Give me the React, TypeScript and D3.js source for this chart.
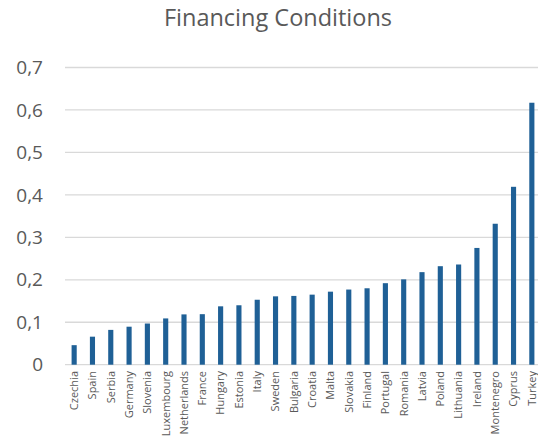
import React from "react";
import * as d3 from "d3";

const countries = ["Czechia","Spain","Serbia","Germany","Slovenia","Luxembourg","Netherlands","France","Hungary","Estonia","Italy","Sweden","Bulgaria","Croatia","Malta","Slovakia","Finland","Portugal","Romania","Latvia","Poland","Lithuania","Ireland","Montenegro","Cyprus","Turkey"];
const values = [0.046,0.066,0.082,0.0895,0.097,0.109,0.1185,0.119,0.1375,0.14,0.153,0.161,0.162,0.165,0.172,0.177,0.18,0.192,0.201,0.218,0.232,0.236,0.275,0.332,0.419,0.617];
const yTicks = [0,0.1,0.2,0.3,0.4,0.5,0.6,0.7];
const title = "Financing Conditions";

const W = 538, H = 439;
const font = "'Open Sans', 'Noto Sans', sans-serif";

export default function App() {
  const x = d3.scaleBand<string>().domain(countries).range([65, 541]).paddingInner(0.72).paddingOuter(0.36);
  const y = d3.scaleLinear().domain([0, 0.7]).range([364.7, 67.5]);
  const fmt = (v: number) => (v === 0 ? "0" : d3.format(".1f")(v).replace(".", ","));
  return (
    <svg width={W} height={H} style={{ position: "absolute", left: 0, top: 0, background: "#fff" }} fontFamily={font}>
      <text x={278} y={26} textAnchor="middle" fontSize={23.5} fill="#595959">{title}</text>
      {yTicks.map((t) => (
        <g key={t}>
          <line x1={65} x2={538} y1={y(t)} y2={y(t)} stroke="#d9d9d9" strokeWidth={1.3} />
          <text x={43} y={y(t)} dy="0.35em" textAnchor="end" fontSize={19} fill="#595959">{fmt(t)}</text>
        </g>
      ))}
      {countries.map((c, i) => (
        <rect key={c} x={x(c)!} width={x.bandwidth()} y={y(values[i])} height={y(0) - y(values[i])} fill="#1f6096" />
      ))}
      {countries.map((c) => (
        <text key={c} transform={`translate(${x(c)! + x.bandwidth() / 2},371) rotate(-90)`} dy="0.35em" textAnchor="end" fontSize={11} fill="#595959">{c}</text>
      ))}
    </svg>
  );
}
